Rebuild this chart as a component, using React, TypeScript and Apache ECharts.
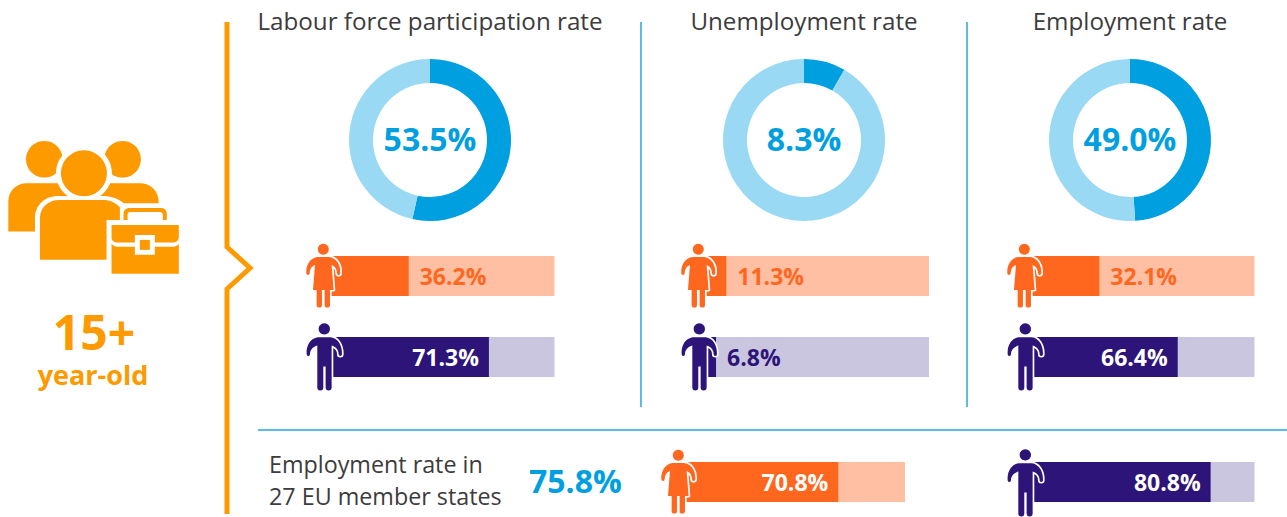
import React, { useEffect, useRef } from "react";
import * as echarts from "echarts";

const panelTitles = ["Labour force participation rate", "Unemployment rate", "Employment rate"];
const totalRates = [53.5, 8.3, 49.0];
const womenRates = [36.2, 11.3, 32.1];
const menRates = [71.3, 6.8, 66.4];
const euLabelLines = ["Employment rate in", "27 EU member states"];
const euTotal = 75.8;
const euWomen = 70.8;
const euMen = 80.8;

const FONT = "'Open Sans', 'Noto Sans', sans-serif";
const BLUE = "#009fe0";
const BLUE_LIGHT = "#99d9f3";
const LINE_BLUE = "#5cbce6";
const ORANGE = "#fc9a00";
const WOMAN = "#ff671f";
const WOMAN_LIGHT = "#ffbfa3";
const MAN = "#2d1478";
const MAN_LIGHT = "#cbc6e0";

const WOMAN_D =
  "M68 66 L102 66 C124 68 138 90 136 115 A5 5 0 0 1 126 115 C126 102 120 94 110 90 L116 165 L105 165 L105 210 A8 8 0 0 1 89 210 L89 165 L81 165 L81 210 A8 8 0 0 1 65 210 L65 165 L54 165 L60 90 C50 94 44 102 44 115 A5 5 0 0 1 34 115 C32 90 46 68 68 66 Z";
const MAN_D =
  "M68 307 L108 307 C128 310 142 330 141 358 A5 5 0 0 1 131 358 C131 345 122 335 110 332 L110 458 A9 9 0 0 1 92 458 L92 395 L85 395 L85 458 A9 9 0 0 1 67 458 L67 332 C55 335 45 345 45 358 A5 5 0 0 1 35 358 C33 330 48 310 68 307 Z";
const BACK_D =
  "M25 335 L25 245 C25 212 50 190 80 190 L175 190 C185 210 205 232 250 236 C295 232 318 210 330 190 L420 190 C452 190 477 212 477 250 L372 250 C350 232 330 228 300 228 L175 228 C135 228 105 255 105 295 L105 335 Z";
const FRONT_D =
  "M120 420 L120 295 C120 262 145 240 178 240 L310 240 C330 240 348 248 360 262 L360 300 L320 300 L320 420 Z";
const CASE_TOP_D = "M335 315 L537 315 L537 352 C537 362 528 368 518 368 L465 368 L465 345 L405 345 L405 368 L355 368 C343 368 335 362 335 352 Z";
const CASE_BOTTOM_D = "M335 372 C342 378 348 381 356 381 L405 381 L405 405 L465 405 L465 381 L516 381 C524 381 531 378 537 372 L537 462 L335 462 Z";
const CASE_HANDLE_D = "M371 300 L371 282 C371 271 378 264 389 264 L483 264 C494 264 501 271 501 282 L501 300 L489 300 L489 285 C489 279 486 276 480 276 L392 276 C386 276 383 279 383 285 L383 300 Z";

echarts.graphic.registerShape("womanIcon", echarts.graphic.extendPath(WOMAN_D, {}));
echarts.graphic.registerShape("manIcon", echarts.graphic.extendPath(MAN_D, {}));
echarts.graphic.registerShape("backPeople", echarts.graphic.extendPath(BACK_D, {}));
echarts.graphic.registerShape("frontPerson", echarts.graphic.extendPath(FRONT_D, {}));
echarts.graphic.registerShape("caseTop", echarts.graphic.extendPath(CASE_TOP_D, {}));
echarts.graphic.registerShape("caseBottom", echarts.graphic.extendPath(CASE_BOTTOM_D, {}));
echarts.graphic.registerShape("caseHandle", echarts.graphic.extendPath(CASE_HANDLE_D, {}));

const donutCentersX = [430, 804, 1130];
const titleCentersX = [425, 799, 1125];
const barLefts = [326, 700.5, 1026];
const iconOffsets = [0, 375, 701];
const BAR_W = 228.5;
const BAR_H = 40;

type BarSpec = { value: number; left: number; top: number; color: string; light: string };

function personIcon(kind: "woman" | "man", dx: number, dy: number) {
  const type = kind === "woman" ? "womanIcon" : "manIcon";
  const color = kind === "woman" ? WOMAN : MAN;
  const head = kind === "woman" ? { cx: 85, cy: 43, r: 16.5 } : { cx: 88, cy: 282, r: 17 };
  const base = { x: 295 + dx, y: 235 + dy, scaleX: 1 / 3, scaleY: 1 / 3, silent: true };
  return [
    { type, ...base, z: 100, style: { fill: "#fff", stroke: "#fff", lineWidth: 10, lineJoin: "round" } },
    { type, ...base, z: 101, style: { fill: color } },
    { type: "circle", ...base, z: 101, shape: head, style: { fill: color } },
  ];
}

function buildOption() {
  const bars: BarSpec[] = [];
  totalRates.forEach((_, i) => {
    bars.push({ value: womenRates[i], left: barLefts[i], top: 256, color: WOMAN, light: WOMAN_LIGHT });
    bars.push({ value: menRates[i], left: barLefts[i], top: 337, color: MAN, light: MAN_LIGHT });
  });
  bars.push({ value: euWomen, left: 676.5, top: 462, color: WOMAN, light: WOMAN_LIGHT });
  bars.push({ value: euMen, left: 1026, top: 462, color: MAN, light: MAN_LIGHT });

  const icons: any[] = [];
  iconOffsets.forEach((dx) => {
    icons.push(...personIcon("woman", dx, 0));
    icons.push(...personIcon("man", dx, 0));
  });
  icons.push(...personIcon("woman", 355, 206));
  icons.push(...personIcon("man", 701, 126));

  const g = { x: 0, y: 120, scaleX: 1 / 3, scaleY: 1 / 3, silent: true };
  const lines: any[] = [
    {
      type: "polyline",
      shape: { points: [[227, 22], [227, 247], [250, 268], [227, 289], [227, 514]] },
      style: { stroke: ORANGE, lineWidth: 5, fill: "none" },
    },
    { type: "line", shape: { x1: 641, y1: 22, x2: 641, y2: 407 }, style: { stroke: LINE_BLUE, lineWidth: 2 } },
    { type: "line", shape: { x1: 967, y1: 22, x2: 967, y2: 407 }, style: { stroke: LINE_BLUE, lineWidth: 2 } },
    { type: "line", shape: { x1: 258, y1: 430, x2: 1287, y2: 430 }, style: { stroke: LINE_BLUE, lineWidth: 2 } },
  ];
  const people: any[] = [
    { type: "circle", ...g, z: 50, shape: { cx: 133, cy: 118, r: 55 }, style: { fill: ORANGE } },
    { type: "circle", ...g, z: 50, shape: { cx: 368, cy: 118, r: 55 }, style: { fill: ORANGE } },
    { type: "backPeople", ...g, z: 50, style: { fill: ORANGE } },
    { type: "circle", ...g, z: 51, shape: { cx: 252, cy: 160, r: 84 }, style: { fill: "#fff" } },
    { type: "circle", ...g, z: 52, shape: { cx: 252, cy: 160, r: 69 }, style: { fill: ORANGE } },
    { type: "frontPerson", ...g, z: 52, style: { fill: ORANGE } },
    { type: "rect", ...g, z: 53, shape: { x: 322, y: 300, width: 215, height: 162 }, style: { fill: "#fff" } },
    { type: "caseHandle", ...g, z: 54, style: { fill: ORANGE } },
    { type: "caseTop", ...g, z: 54, style: { fill: ORANGE } },
    { type: "caseBottom", ...g, z: 54, style: { fill: ORANGE } },
    { type: "rect", ...g, z: 54, shape: { x: 420, y: 360, width: 30, height: 30 }, style: { fill: ORANGE } },
  ];
  const texts: any[] = [
    { type: "text", x: 94, y: 331, style: { text: "15+", fontFamily: FONT, fontWeight: 700, fontSize: 48, lineHeight: 36, fill: ORANGE, align: "center", verticalAlign: "middle" } },
    { type: "text", x: 93, y: 374, style: { text: "year-old", fontFamily: FONT, fontWeight: 700, fontSize: 27, lineHeight: 28, fill: ORANGE, align: "center", verticalAlign: "middle" } },
    { type: "text", x: 269, y: 464, style: { text: euLabelLines[0], font: `400 23.3px ${FONT}`, fill: "#3c3c3c", align: "left", verticalAlign: "middle" } },
    { type: "text", x: 269, y: 496, style: { text: euLabelLines[1], font: `400 23.3px ${FONT}`, fill: "#3c3c3c", align: "left", verticalAlign: "middle" } },
    { type: "text", x: 529, y: 480, style: { text: euTotal.toFixed(1) + "%", font: `700 32px ${FONT}`, fill: BLUE, align: "left", verticalAlign: "middle" } },
  ];

  return {
    animation: false,
    backgroundColor: "#fff",
    title: panelTitles.map((text, i) => ({
      text,
      left: titleCentersX[i],
      top: 3,
      textAlign: "center",
      textStyle: { fontFamily: FONT, fontSize: 24.2, fontWeight: 400, color: "#3c3c3c" },
    })),
    grid: bars.map((b) => ({ left: b.left, top: b.top, width: BAR_W, height: BAR_H, containLabel: false })),
    xAxis: bars.map((_, i) => ({ type: "value", gridIndex: i, min: 0, max: 100, show: false })),
    yAxis: bars.map((_, i) => ({ type: "category", gridIndex: i, data: ["rate"], show: false })),
    series: [
      ...totalRates.map((v, i) => ({
        type: "pie",
        center: [donutCentersX[i], 140],
        radius: [57, 81],
        startAngle: 90,
        clockwise: true,
        silent: true,
        labelLine: { show: false },
        data: [
          {
            value: v,
            itemStyle: { color: BLUE },
            label: {
              show: true,
              position: "center",
              offset: [0, -2],
              formatter: v.toFixed(1) + "%",
              fontFamily: FONT,
              fontSize: 32,
              fontWeight: 700,
              color: BLUE,
            },
          },
          { value: 100 - v, itemStyle: { color: BLUE_LIGHT }, label: { show: false } },
        ],
      })),
      ...bars.map((b, i) => {
        const inside = b.value > 50;
        return {
          type: "bar",
          xAxisIndex: i,
          yAxisIndex: i,
          barWidth: BAR_H,
          silent: true,
          showBackground: true,
          backgroundStyle: { color: b.light },
          itemStyle: { color: b.color },
          label: {
            show: true,
            position: inside ? "insideRight" : "right",
            distance: inside ? 10 : 11,
            formatter: b.value.toFixed(1) + "%",
            fontFamily: FONT,
            fontSize: 23,
            fontWeight: 700,
            color: inside ? "#fff" : b.color,
          },
          data: [b.value],
        };
      }),
    ],
    graphic: { elements: [...lines, ...people, ...icons, ...texts] },
  };
}

export default function App() {
  const ref = useRef<HTMLDivElement>(null);
  useEffect(() => {
    const chart = echarts.init(ref.current!, undefined, { renderer: "svg" });
    chart.setOption(buildOption() as any);
    return () => chart.dispose();
  }, []);
  return <div ref={ref} style={{ position: "absolute", left: 0, top: 0, width: 1287, height: 517 }} />;
}
